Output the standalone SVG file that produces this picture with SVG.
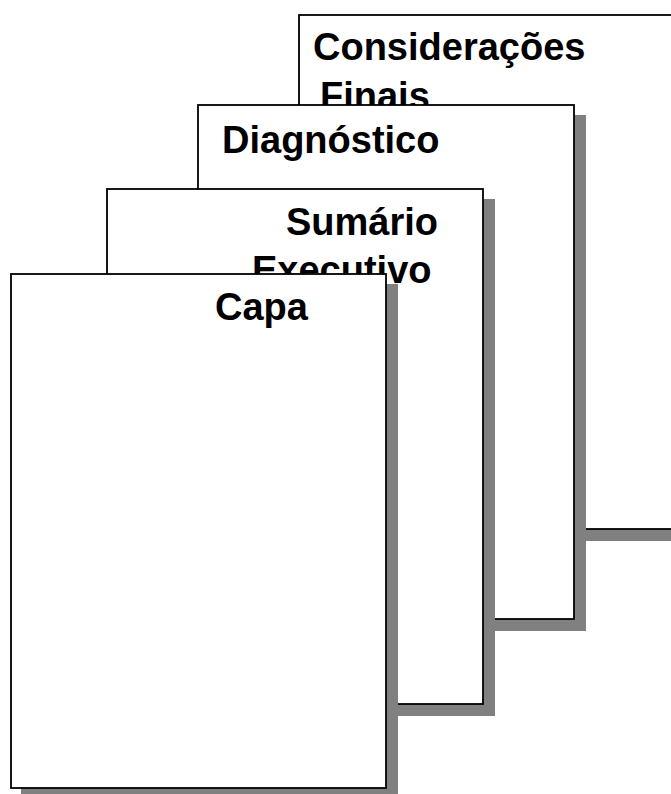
<svg xmlns="http://www.w3.org/2000/svg" width="671" height="794" viewBox="0 0 671 794">
<style>
.shadow{fill:#808080;stroke:none}
.page{fill:#ffffff;stroke:#000000;stroke-width:1.8}
.label{font-family:"Liberation Sans",Arial,sans-serif;font-weight:bold;font-size:38px;fill:#000000}
</style>
<rect x="0" y="0" width="671" height="794" fill="#ffffff"/>
<g id="consideracoes">
<rect class="shadow" x="309" y="25" width="378" height="516"/>
<rect class="page" x="299" y="15" width="376" height="514"/>
<text class="label" x="313" y="60">Considerações</text>
<text class="label" x="320" y="109">Finais</text>
</g>
<g id="diagnostico">
<rect class="shadow" x="208" y="115" width="378" height="516"/>
<rect class="page" x="198" y="105" width="376" height="514"/>
<text class="label" x="222" y="153">Diagnóstico</text>
</g>
<g id="sumario">
<rect class="shadow" x="117" y="199" width="378" height="517"/>
<rect class="page" x="107" y="189" width="376" height="515"/>
<text class="label" x="286" y="235">Sumário</text>
<text class="label" x="252" y="283">Executivo</text>
</g>
<g id="capa">
<rect class="shadow" x="21" y="284" width="377" height="516"/>
<rect class="page" x="11" y="274" width="375" height="514"/>
<text class="label" x="215" y="320">Capa</text>
</g>
<g id="connectors"></g>
</svg>
